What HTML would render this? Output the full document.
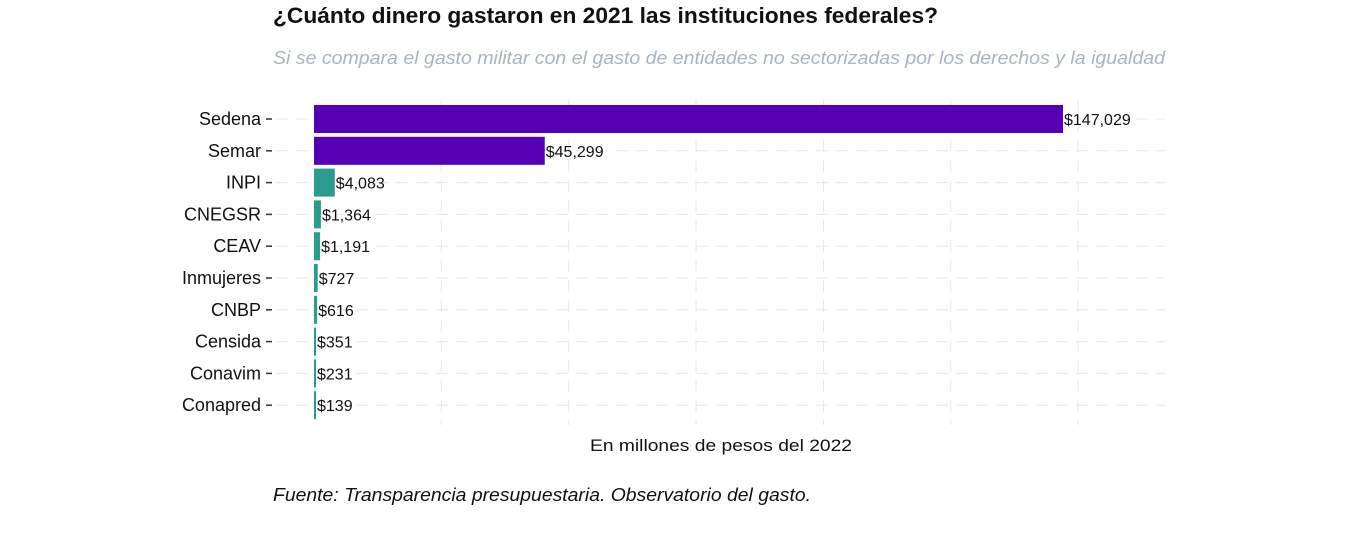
<!DOCTYPE html>
<html><head><meta charset="utf-8"><style>
html,body{margin:0;padding:0;background:#fff;}
svg{display:block;font-family:"Liberation Sans",sans-serif;}
</style></head><body>
<svg id="chart" width="1351" height="538" viewBox="0 0 1351 538">
<text x="273" y="23" font-size="22" font-weight="bold" fill="#111" textLength="665" lengthAdjust="spacingAndGlyphs">¿Cuánto dinero gastaron en 2021 las instituciones federales?</text>
<text x="273" y="64" font-size="18" font-style="italic" fill="#a9b5c0" textLength="892" lengthAdjust="spacingAndGlyphs">Si se compara el gasto militar con el gasto de entidades no sectorizadas por los derechos y la igualdad</text>
<g id="grid"></g>
<g id="bars"></g>
<text x="721" y="451" font-size="17" fill="#111" text-anchor="middle" textLength="262" lengthAdjust="spacingAndGlyphs">En millones de pesos del 2022</text>
<text x="273" y="501" font-size="18" font-style="italic" fill="#111" textLength="538" lengthAdjust="spacingAndGlyphs">Fuente: Transparencia presupuestaria. Observatorio del gasto.</text>
</svg>
<script>
const categories = ["Sedena","Semar","INPI","CNEGSR","CEAV","Inmujeres","CNBP","Censida","Conavim","Conapred"];
const values = [147029,45299,4083,1364,1191,727,616,351,231,139];
const valueLabels = ["$147,029","$45,299","$4,083","$1,364","$1,191","$727","$616","$351","$231","$139"];
const military = [true,true,false,false,false,false,false,false,false,false];
const gridTicks = [25000,50000,75000,100000,125000,150000];

const NS="http://www.w3.org/2000/svg";
const x0=314, xScale=(1063-314)/147029;
const xPos=v=>x0+v*xScale;
const yPos=i=>119+i*31.8;
const panelL=276, panelR=1165, panelT=100, panelB=425;
const grid=document.getElementById('grid'), bars=document.getElementById('bars');
function mk(tag,attrs,parent){const e=document.createElementNS(NS,tag);for(const k in attrs)e.setAttribute(k,attrs[k]);parent.appendChild(e);return e;}
gridTicks.forEach(t=>{
  const l=mk('line',{x1:xPos(t),x2:xPos(t),y1:panelT,y2:panelB,stroke:'#e6e9ec','stroke-width':1,'stroke-dasharray':'12,8'},grid);
  
  
});
categories.forEach((c,i)=>{
  const y=yPos(i);
  const g=mk('line',{x1:panelL,x2:panelR,y1:y,y2:y,stroke:'#e6e9ec','stroke-width':1,'stroke-dasharray':'12,8'},grid);
  
  
  const lab=mk('text',{x:261,y:y+6,'font-size':18,'text-anchor':'end',fill:'#111'},bars);
  lab.textContent=c;
  
  
  const tk=mk('line',{x1:266,x2:272,y1:y,y2:y,stroke:'#333','stroke-width':1.5},bars);
  
  
  const w=Math.max(xPos(values[i])-x0,2);
  const r=mk('rect',{x:x0,y:y-14,width:w,height:28,fill:military[i]?'#5500b4':'#2a9d8f'},bars);
  
  
  const vl=mk('text',{x:x0+w+1,y:y+6,'font-size':16,fill:'#111'},bars);
  vl.textContent=valueLabels[i];
  
  
});
</script>
</body></html>
